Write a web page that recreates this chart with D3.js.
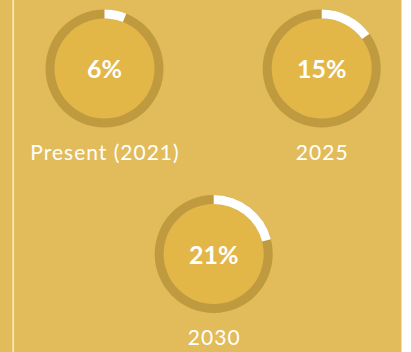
<!DOCTYPE html>
<html>
<head>
<meta charset="utf-8">
<script src="https://cdn.jsdelivr.net/npm/d3@7"></script>
<style>
  html, body { margin: 0; padding: 0; background: #ffffff; }
  svg { display: block; }
</style>
</head>
<body>
<svg id="chart" width="411" height="352"></svg>
<script>
// Share of the total, by period
const periods = ["Present (2021)", "2025", "2030"];
const shares = [6, 15, 21];
const percentLabels = ["6%", "15%", "21%"];

const width = 411, height = 352;
const svg = d3.select("#chart");

// Panel background and divider
svg.append("rect").attr("x", 0).attr("y", 0).attr("width", 401.5).attr("height", height)
  .attr("fill", "#e2bc5a");
svg.append("rect").attr("x", 12.3).attr("y", 0).attr("width", 1.8).attr("height", height)
  .attr("fill", "#f7e6b6");

// Donut layout: two on the top row, one centred below
const centers = [[104.5, 68.5], [321.7, 68.5], [213.7, 254]];
const outerR = 59, innerR = 50;

const angle = d3.scaleLinear().domain([0, 100]).range([0, 2 * Math.PI]);
const arc = d3.arc().innerRadius(innerR).outerRadius(outerR);

const groups = svg.selectAll("g.donut")
  .data(periods.map((p, i) => ({ period: p, value: shares[i], label: percentLabels[i], c: centers[i] })))
  .join("g")
  .attr("class", "donut")
  .attr("transform", d => `translate(${d.c[0]},${d.c[1]})`);

// Centre fill
groups.append("circle").attr("r", innerR).attr("fill", "#e3b648");

// Background track
groups.append("path")
  .attr("d", arc({ startAngle: 0, endAngle: 2 * Math.PI }))
  .attr("fill", "#bf9a3e");

// Value arc
groups.append("path")
  .attr("d", d => arc({ startAngle: 0, endAngle: angle(d.value) }))
  .attr("fill", "#ffffff");

// Value in the middle
groups.append("text")
  .attr("text-anchor", "middle")
  .attr("y", 9.7)
  .attr("font-family", "Lato, sans-serif")
  .attr("font-weight", "bold")
  .attr("font-size", 25)
  .attr("fill", "#ffffff")
  .text(d => d.label);

// Period label beneath
groups.append("text")
  .attr("text-anchor", "middle")
  .attr("x", 0.5)
  .attr("y", 91)
  .attr("font-family", "Lato, sans-serif")
  .attr("font-size", 21)
  .attr("letter-spacing", 1)
  .attr("fill", "#ffffff")
  .text(d => d.period);
</script>
</body>
</html>
